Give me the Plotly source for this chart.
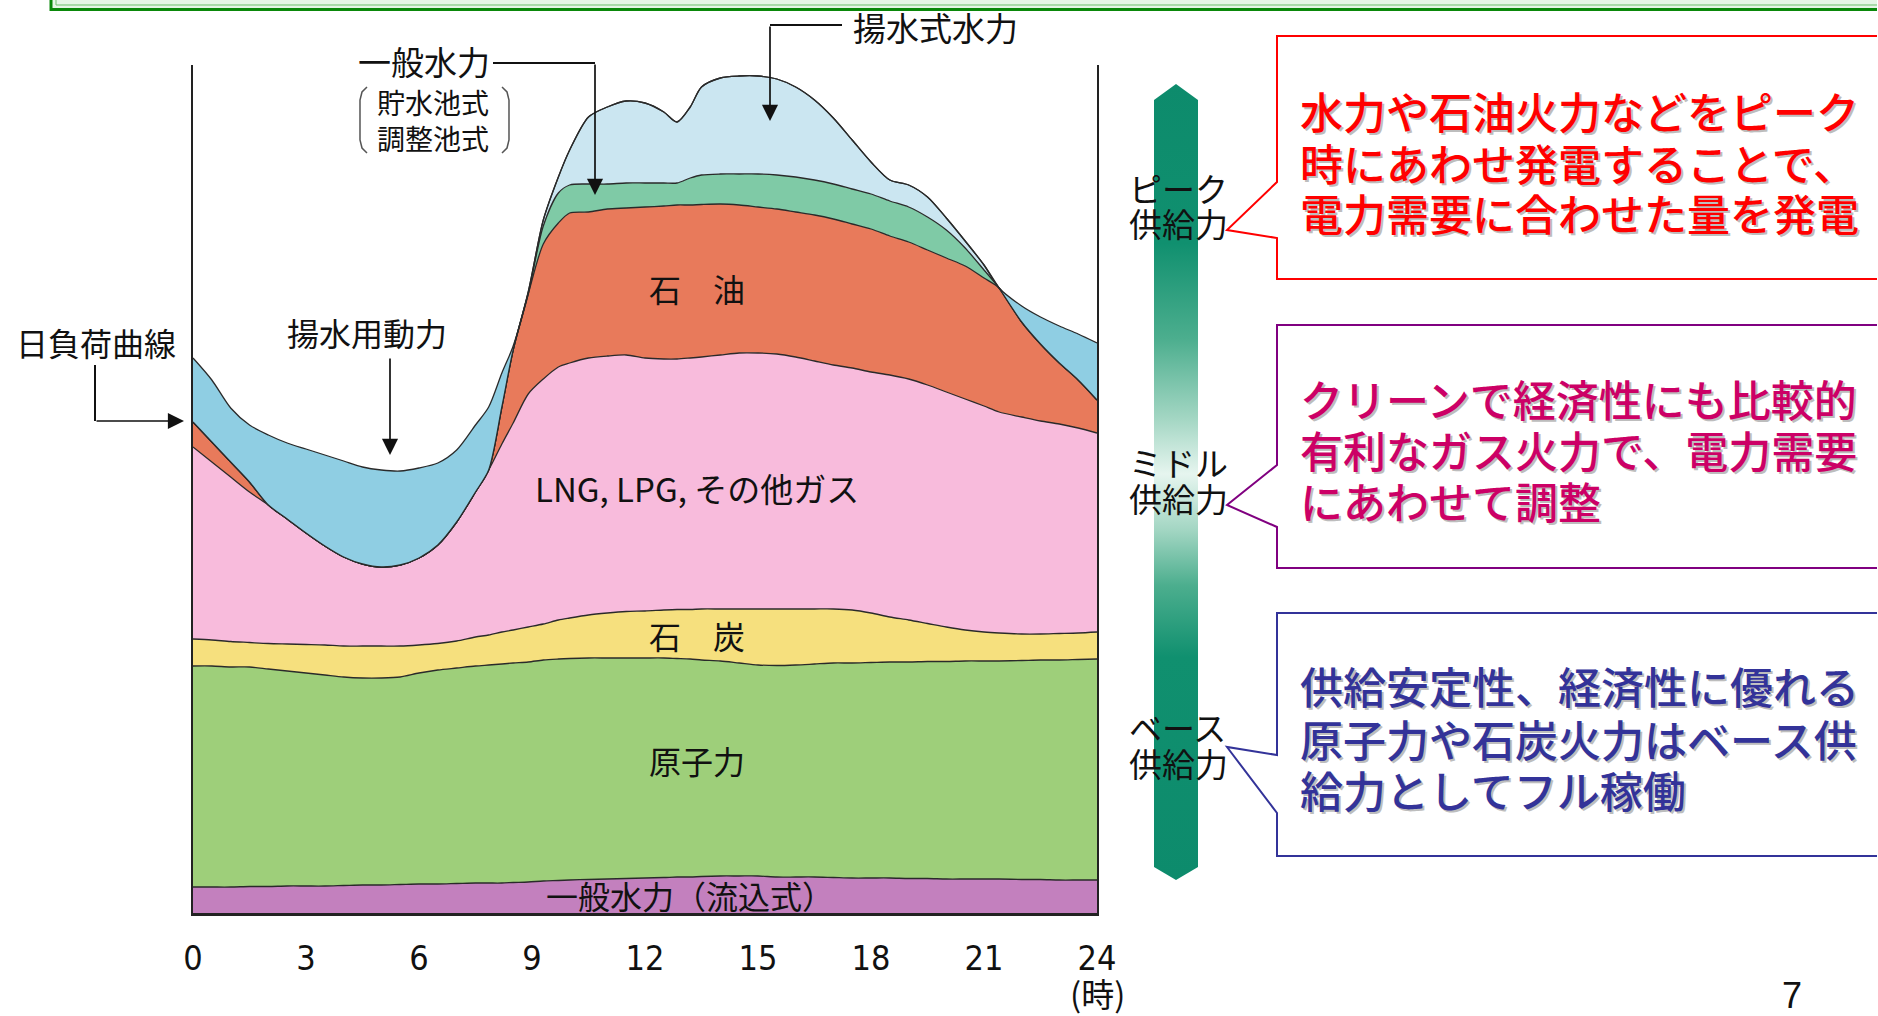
import plotly.graph_objects as go

PAGE_W, PAGE_H = 1878, 1016
OX, OY = 0, 0
FW, FH = PAGE_W - 2 * OX, PAGE_H - 2 * OY

# ---------------- data (arbitrary load units, 0 = baseline) ----------------
hours = [0, 0.5, 1, 1.5, 2, 2.5, 3, 3.5, 4, 4.5, 5, 5.5, 6, 6.5, 7, 7.5, 7.85, 8.2, 8.5, 8.9,
         9.3, 9.7, 10, 10.5, 11, 11.5, 12, 12.5, 12.85, 13.2, 13.5, 14, 14.5, 15, 15.5, 16,
         16.5, 17, 17.5, 18, 18.5, 19, 19.5, 20, 20.5, 21, 21.4, 22, 22.5, 23, 23.5, 24]

# upper edge of each stacked band
run_of_river_top = [26, 26, 26, 26.5, 26.5, 27, 27, 27, 27.5, 28, 28, 28.5, 29, 29, 29.5, 30, 30, 30,
                    30.5, 31, 32, 32.5, 33, 33.5, 34, 34.5, 35, 35.5, 36, 36, 36.5, 37, 37, 37, 36,
                    36, 36, 35.5, 35, 35, 35, 34.5, 34.5, 34, 34, 34, 34, 33.5, 33.5, 33, 33, 33]
nuclear_top = [247, 247, 246, 246, 244, 242, 240, 238, 236, 235, 235, 236, 240, 243, 245, 247, 248,
               249, 250, 251, 253, 254, 254.5, 255, 255, 255, 255, 255, 254.5, 254, 253, 252, 250,
               248, 247.5, 248, 249, 250, 250, 250.5, 251, 251, 251.5, 251.5, 252, 252, 252, 252.5,
               253, 253, 253.5, 254]
coal_top = [274, 273, 271.5, 270.5, 269.5, 269, 268.5, 268, 267, 267, 267, 267, 268, 269.5, 272, 276,
            278, 281, 283, 286, 289, 293, 295, 298, 300, 301.5, 302, 303, 303.5, 303.5, 304, 304,
            304, 304, 304, 304, 304, 304, 303, 300, 296, 293, 289.5, 286, 283, 281, 280, 279, 279,
            279.5, 280, 281]
lng_top = [466, 451, 436, 421, 408, 394, 380, 367, 356, 349, 346, 348, 355, 368, 391, 421, 443, 469,
           490, 519, 534, 546, 550, 555, 557, 558, 555, 554, 554, 555, 556, 558, 560, 560, 559, 556,
           552, 548, 545, 541, 538, 534, 528, 521, 514, 507, 501, 496, 492, 489, 485, 480]
oil_top = [491, 471, 451, 431, 408, 394, 380, 367, 356, 349, 346, 348, 355, 368, 391, 421, 443, 506,
           563, 619, 669, 690, 700, 701, 704, 705, 706, 707, 708, 708, 708.5, 709, 708, 706, 704,
           701, 698, 694, 689, 684, 677, 671, 663, 655, 647, 635, 625, 591, 569, 550, 533, 513]
reservoir_hydro_top = [491, 471, 451, 431, 408, 394, 380, 367, 356, 349, 346, 348, 355, 368, 391,
                       421, 443, 506, 563, 619, 687, 720, 728, 729, 729, 730, 730, 730, 730, 735,
                       738, 739, 739, 739, 738, 736, 733, 729, 724, 719, 712, 706, 696, 683, 665,
                       643, 625, 591, 569, 550, 533, 513]
pumped_hydro_top = [491, 471, 451, 431, 408, 394, 380, 367, 356, 349, 346, 348, 355, 368, 391, 421,
                    443, 506, 563, 621, 693, 736, 763, 796, 806, 812, 810, 801, 791, 806, 826, 835,
                    837, 837, 834, 826, 813, 795, 773, 751, 733, 728, 716, 695, 672, 648, 625, 591,
                    569, 550, 533, 513]
pumping_power_top = [555, 533, 505, 488, 478, 470, 464, 458, 452, 446, 443, 442, 445, 450, 463, 488,
                     506, 540, 567, 621, 693, 736, 763, 796, 806, 812, 810, 801, 791, 806, 826, 835,
                     837, 837, 834, 826, 813, 795, 773, 751, 733, 728, 716, 695, 672, 648, 625, 607,
                     596, 587, 579, 570]

layer_names = ["一般水力（流込式）", "原子力", "石炭", "LNG, LPG, その他ガス", "石油",
               "一般水力（貯水池式・調整池式）", "揚水式水力", "揚水用動力"]
layer_tops = [run_of_river_top, nuclear_top, coal_top, lng_top, oil_top,
              reservoir_hydro_top, pumped_hydro_top, pumping_power_top]
layer_colors = ["#c380be", "#9ecf7a", "#f6e07e", "#f8bbdc", "#e87a5b",
                "#7fcaa6", "#cbe6f1", "#8fcee3"]

tick_hours = [0, 3, 6, 9, 12, 15, 18, 21, 24]
tick_labels = ["0", "3", "6", "9", "12", "15", "18", "21", "24"]

# ---------------- helpers (positions given in page pixels) ----------------
CJK = "Noto Sans CJK JP, Noto Sans CJK SC, sans-serif"
NARROW = "Liberation Sans Narrow, DejaVu Sans Condensed, Arial Narrow, Liberation Sans, sans-serif"
RIGHT = OX + FW - 1


def px(x):
    return (x - OX) / FW


def py(y):
    return 1 - (y - OY) / FH


fig = go.Figure()

for i, (name, ys, col) in enumerate(zip(layer_names, layer_tops, layer_colors)):
    fig.add_trace(go.Scatter(
        x=hours, y=ys, name=name, mode="lines",
        line=dict(color="#2a2a2a", width=1.3, shape="spline", smoothing=0.8),
        fill="tozeroy" if i == 0 else "tonexty", fillcolor=col,
        hoverinfo="skip", showlegend=False))

# gradient supply bar (decoration, drawn in a page-pixel overlay)
bar_x = [1176, 1198, 1198, 1176, 1154, 1154, 1176]
bar_y = [84, 100, 867, 880, 867, 100, 84]
fig.add_trace(go.Scatter(
    x=bar_x, y=bar_y, xaxis="x2", yaxis="y2", mode="lines", line=dict(width=0, color="rgba(0,0,0,0)"),
    fill="toself",
    fillgradient=dict(type="vertical", start=84, stop=880,
                      colorscale=[[0, "#0d8b6c"], [0.2, "#10906f"], [0.32, "#4cae8e"],
                                  [0.42, "#a3d6c3"], [0.49, "#e6f5ef"], [0.56, "#a3d6c3"],
                                  [0.63, "#4cae8e"], [0.72, "#10906f"], [1, "#0d8b6c"]]),
    hoverinfo="skip", showlegend=False))

annotations = []


def label(text, x, y, size, color="#111", xanchor="center", family=CJK, weight=400):
    annotations.append(dict(text=text, x=px(x), y=py(y), xref="paper", yref="paper",
                            showarrow=False, xanchor=xanchor, yanchor="middle",
                            font=dict(size=size, color=color, family=family, weight=weight)))


def arrow(x, y, ax, ay):
    annotations.append(dict(text="", x=px(x), y=py(y), xref="paper", yref="paper",
                            ax=ax, ay=ay, showarrow=True, arrowhead=2, arrowsize=1.9,
                            arrowwidth=1.7, arrowcolor="#111"))


shapes = []


def seg(x0, y0, x1, y1, color="#111", w=2):
    shapes.append(dict(type="line", xref="paper", yref="paper", x0=px(x0), y0=py(y0),
                       x1=px(x1), y1=py(y1), line=dict(color=color, width=w)))


def path(pts, color, w=2, fill="rgba(0,0,0,0)", close=False):
    d = "M " + " L ".join(f"{px(x):.5f},{py(y):.5f}" for x, y in pts) + (" Z" if close else "")
    shapes.append(dict(type="path", xref="paper", yref="paper", path=d,
                       line=dict(color=color, width=w), fillcolor=fill))


# slide frame at top (only its lower part is visible)
path([(51, 0), (RIGHT, 0), (RIGHT, 9), (51, 9)], "rgba(0,0,0,0)", 0, fill="#e6f6e6", close=True)
path([(51, 0), (51, 9.5), (RIGHT, 9.5)], "#0a880a", 3)
path([(56, 0), (56, 5), (RIGHT, 5)], "#6cc06c", 1)

# band labels
label("石　油", 697, 288, 32)
label("LNG, LPG, その他ガス", 697, 488, 33)
label("石　炭", 697, 635, 32)
label("原子力", 697, 760, 32)
label("一般水力（流込式）", 690, 895, 32)

# callouts with arrows on the chart
label("日負荷曲線", 96, 342, 32)
seg(95, 365, 95, 421)
arrow(184, 421, -89, 0)

label("揚水用動力", 367, 332, 32)
arrow(390, 455, 0, -98)

label("一般水力", 424, 61, 33)
label("貯水池式", 433, 102, 28)
label("調整池式", 433, 138, 28)
seg(493, 63, 595, 63)
arrow(595, 195, 0, -132)
path([(367, 87), (362, 92), (360, 100), (360, 140), (362, 148), (367, 153)], "#555", 1.5)
path([(502, 87), (507, 92), (509, 100), (509, 140), (507, 148), (502, 153)], "#555", 1.5)

label("揚水式水力", 935, 27, 33)
seg(842, 25, 770, 25)
arrow(770, 121, 0, -96)

label("(時)", 1097, 993, 33)
label("7", 1792, 995, 36, family="Liberation Sans, Arial, sans-serif")

# supply labels by the bar
for txt, y in [("ピーク", 188), ("供給力", 223), ("ミドル", 462), ("供給力", 498),
               ("ベース", 727), ("供給力", 763)]:
    label(txt, 1127, y, 33, xanchor="left")

# explanation boxes
boxes = [
    ("#ff0000", "#ff0000", 36, 279, (182, 230, 238),
     ["水力や石油火力などをピーク", "時にあわせ発電することで、", "電力需要に合わせた量を発電"], [110, 162, 212]),
    ("#800080", "#cc0066", 325, 568, (465, 505, 527),
     ["クリーンで経済性にも比較的", "有利なガス火力で、電力需要", "にあわせて調整"], [398, 449, 500]),
    ("#333399", "#333399", 613, 856, (755, 747, 813),
     ["供給安定性、経済性に優れる", "原子力や石炭火力はベース供", "給力としてフル稼働"], [685, 738, 789]),
]
for border, tcol, top, bot, (p1, tip, p2), lines, ys in boxes:
    path([(RIGHT, top), (1277, top), (1277, p1), (1227, tip), (1277, p2), (1277, bot), (RIGHT, bot)],
         border, 2)
    for t, y in zip(lines, ys):
        label(t, 1300, y + 2, 43, color="#bdbdbd", xanchor="left", weight=500)
        label(t, 1298, y, 43, color=tcol, xanchor="left", weight=500)

fig.update_layout(
    width=FW, height=FH, margin=dict(l=0, r=0, t=0, b=0, pad=0, autoexpand=False),
    paper_bgcolor="#ffffff", plot_bgcolor="rgba(0,0,0,0)", showlegend=False,
    xaxis=dict(domain=[px(193), px(1097)], range=[0, 24], tickvals=tick_hours, ticktext=tick_labels,
               showline=True, linecolor="#222", linewidth=3, ticks="", showgrid=False,
               zeroline=False, fixedrange=True, ticklabelstandoff=13, automargin=False,
               tickfont=dict(family=NARROW, size=34, color="#111")),
    yaxis=dict(domain=[py(913), py(65)], range=[0, 848], showline=True, mirror=True,
               linecolor="#222", linewidth=2, showticklabels=False, ticks="", showgrid=False,
               zeroline=False, fixedrange=True, automargin=False),
    xaxis2=dict(domain=[0, 1], range=[OX, OX + FW], visible=False, anchor="y2", fixedrange=True,
                automargin=False, showticklabels=False),
    yaxis2=dict(domain=[0, 1], range=[OY + FH, OY], visible=False, anchor="x2", fixedrange=True,
                automargin=False, showticklabels=False),
    annotations=annotations, shapes=shapes,
)

fig.write_html("out.html", config={"displayModeBar": False})
